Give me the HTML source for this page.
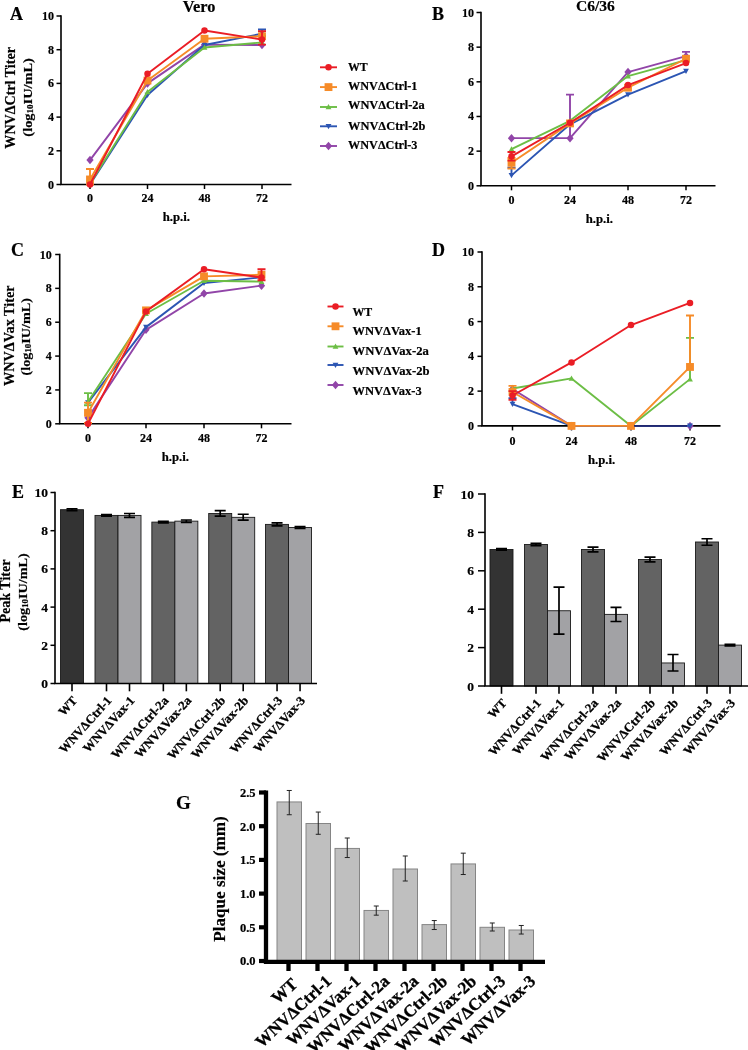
<!DOCTYPE html>
<html><head><meta charset="utf-8"><title>Figure</title><style>html,body{margin:0;padding:0;background:#fff}svg{display:block}text{stroke:#000;stroke-width:0.2px}</style></head><body>
<svg width="748" height="1050" viewBox="0 0 748 1050" font-family="'Liberation Serif', serif" font-weight="bold" fill="#000">
<rect width="748" height="1050" fill="#fff"/>
<path d="M61 15.25V184.5H291.5" fill="none" stroke="#000" stroke-width="1.6"/>
<path d="M56.5 184.50H61" stroke="#000" stroke-width="1.5"/>
<text x="54" y="188.5" font-size="12" text-anchor="end">0</text>
<path d="M56.5 150.80H61" stroke="#000" stroke-width="1.5"/>
<text x="54" y="154.8" font-size="12" text-anchor="end">2</text>
<path d="M56.5 117.10H61" stroke="#000" stroke-width="1.5"/>
<text x="54" y="121.1" font-size="12" text-anchor="end">4</text>
<path d="M56.5 83.40H61" stroke="#000" stroke-width="1.5"/>
<text x="54" y="87.4" font-size="12" text-anchor="end">6</text>
<path d="M56.5 49.70H61" stroke="#000" stroke-width="1.5"/>
<text x="54" y="53.7" font-size="12" text-anchor="end">8</text>
<path d="M56.5 16.00H61" stroke="#000" stroke-width="1.5"/>
<text x="54" y="20.0" font-size="12" text-anchor="end">10</text>
<path d="M90 184.5V189.0" stroke="#000" stroke-width="1.5"/>
<text x="90" y="202.0" font-size="12" text-anchor="middle">0</text>
<path d="M147.5 184.5V189.0" stroke="#000" stroke-width="1.5"/>
<text x="147.5" y="202.0" font-size="12" text-anchor="middle">24</text>
<path d="M204.5 184.5V189.0" stroke="#000" stroke-width="1.5"/>
<text x="204.5" y="202.0" font-size="12" text-anchor="middle">48</text>
<path d="M262 184.5V189.0" stroke="#000" stroke-width="1.5"/>
<text x="262" y="202.0" font-size="12" text-anchor="middle">72</text>
<text x="176.3" y="221.0" font-size="12" text-anchor="middle" textLength="27.3" lengthAdjust="spacingAndGlyphs">h.p.i.</text>
<polyline points="90.0,160.07 147.5,83.40 204.5,44.64 262.0,44.98" fill="none" stroke="#9145a8" stroke-width="1.9" stroke-linejoin="round"/>
<path d="M90.00 155.81L93.62 160.07L90.00 164.32L86.38 160.07Z" fill="#9145a8"/>
<path d="M147.50 79.14L151.12 83.40L147.50 87.66L143.88 83.40Z" fill="#9145a8"/>
<path d="M204.50 40.39L208.12 44.64L204.50 48.90L200.88 44.64Z" fill="#9145a8"/>
<path d="M262.00 40.73L265.62 44.98L262.00 49.24L258.38 44.98Z" fill="#9145a8"/>
<polyline points="90.0,184.50 147.5,95.03 204.5,44.98 262.0,33.69" fill="none" stroke="#2c55b3" stroke-width="1.9" stroke-linejoin="round"/>
<path d="M262 36.22V29.48M258 29.48H266M258 36.22H266" stroke="#2c55b3" stroke-width="1.9" fill="none"/>
<path d="M90.00 187.41L92.91 182.17L87.09 182.17Z" fill="#2c55b3"/>
<path d="M147.50 97.94L150.41 92.70L144.59 92.70Z" fill="#2c55b3"/>
<path d="M204.50 47.89L207.41 42.65L201.59 42.65Z" fill="#2c55b3"/>
<path d="M262.00 36.60L264.91 31.36L259.09 31.36Z" fill="#2c55b3"/>
<polyline points="90.0,183.66 147.5,91.99 204.5,47.51 262.0,42.45" fill="none" stroke="#6cbe45" stroke-width="1.9" stroke-linejoin="round"/>
<path d="M90.00 180.75L92.91 185.99L87.09 185.99Z" fill="#6cbe45"/>
<path d="M147.50 89.08L150.41 94.32L144.59 94.32Z" fill="#6cbe45"/>
<path d="M204.50 44.60L207.41 49.84L201.59 49.84Z" fill="#6cbe45"/>
<path d="M262.00 39.54L264.91 44.78L259.09 44.78Z" fill="#6cbe45"/>
<polyline points="90.0,179.44 147.5,80.54 204.5,38.75 262.0,36.22" fill="none" stroke="#f68b28" stroke-width="1.9" stroke-linejoin="round"/>
<path d="M90 184.50V169.00M86 169.00H94M86 184.50H94" stroke="#f68b28" stroke-width="1.9" fill="none"/>
<rect x="86.08" y="175.53" width="7.84" height="7.84" fill="#f68b28"/>
<rect x="143.58" y="76.62" width="7.84" height="7.84" fill="#f68b28"/>
<rect x="200.58" y="34.83" width="7.84" height="7.84" fill="#f68b28"/>
<rect x="258.08" y="32.30" width="7.84" height="7.84" fill="#f68b28"/>
<polyline points="90.0,184.50 147.5,73.80 204.5,30.49 262.0,39.59" fill="none" stroke="#ea1d25" stroke-width="1.9" stroke-linejoin="round"/>
<path d="M262 44.64V31.16M258 31.16H266M258 44.64H266" stroke="#ea1d25" stroke-width="1.9" fill="none"/>
<circle cx="90" cy="184.5" r="3.25" fill="#ea1d25"/>
<circle cx="147.5" cy="73.79549999999999" r="3.25" fill="#ea1d25"/>
<circle cx="204.5" cy="30.490999999999985" r="3.25" fill="#ea1d25"/>
<circle cx="262" cy="39.59" r="3.25" fill="#ea1d25"/>
<text x="10" y="19.5" font-size="18">A</text>
<text x="199" y="12" font-size="16.3" text-anchor="middle">Vero</text>
<text x="15.3" y="97.9" font-size="14" text-anchor="middle" transform="rotate(-90 15.3 97.9)" textLength="101.5" lengthAdjust="spacingAndGlyphs">WNVΔCtrl Titer</text>
<text x="32" y="97.4" font-size="13.5" text-anchor="middle" transform="rotate(-90 32 97.4)" textLength="78.5" lengthAdjust="spacingAndGlyphs">(log<tspan font-size='8.5' dy='1'>10</tspan><tspan dy='-1'>IU/mL)</tspan></text>
<path d="M320 67.3H337" stroke="#ea1d25" stroke-width="1.9"/>
<circle cx="328.5" cy="67.3" r="3.25" fill="#ea1d25"/>
<text x="348" y="70.7" font-size="12" textLength="19.8" lengthAdjust="spacingAndGlyphs">WT</text>
<path d="M320 87.1H337" stroke="#f68b28" stroke-width="1.9"/>
<rect x="324.58" y="83.18" width="7.84" height="7.84" fill="#f68b28"/>
<text x="348" y="89.6" font-size="12" textLength="69.5" lengthAdjust="spacingAndGlyphs">WNVΔCtrl-1</text>
<path d="M320 107H337" stroke="#6cbe45" stroke-width="1.9"/>
<path d="M328.50 104.09L331.41 109.33L325.59 109.33Z" fill="#6cbe45"/>
<text x="348" y="108.8" font-size="12" textLength="76.7" lengthAdjust="spacingAndGlyphs">WNVΔCtrl-2a</text>
<path d="M320 126.3H337" stroke="#2c55b3" stroke-width="1.9"/>
<path d="M328.50 129.21L331.41 123.97L325.59 123.97Z" fill="#2c55b3"/>
<text x="348" y="129.5" font-size="12" textLength="77.5" lengthAdjust="spacingAndGlyphs">WNVΔCtrl-2b</text>
<path d="M320 146H337" stroke="#9145a8" stroke-width="1.9"/>
<path d="M328.50 141.74L332.12 146.00L328.50 150.26L324.88 146.00Z" fill="#9145a8"/>
<text x="348" y="148.9" font-size="12" textLength="69.5" lengthAdjust="spacingAndGlyphs">WNVΔCtrl-3</text>
<path d="M481 11.75V185.8H715.5" fill="none" stroke="#000" stroke-width="1.6"/>
<path d="M476.5 185.80H481" stroke="#000" stroke-width="1.5"/>
<text x="474" y="189.8" font-size="12" text-anchor="end">0</text>
<path d="M476.5 151.14H481" stroke="#000" stroke-width="1.5"/>
<text x="474" y="155.14" font-size="12" text-anchor="end">2</text>
<path d="M476.5 116.48H481" stroke="#000" stroke-width="1.5"/>
<text x="474" y="120.48" font-size="12" text-anchor="end">4</text>
<path d="M476.5 81.82H481" stroke="#000" stroke-width="1.5"/>
<text x="474" y="85.82" font-size="12" text-anchor="end">6</text>
<path d="M476.5 47.16H481" stroke="#000" stroke-width="1.5"/>
<text x="474" y="51.16" font-size="12" text-anchor="end">8</text>
<path d="M476.5 12.50H481" stroke="#000" stroke-width="1.5"/>
<text x="474" y="16.5" font-size="12" text-anchor="end">10</text>
<path d="M511.5 185.8V190.3" stroke="#000" stroke-width="1.5"/>
<text x="511.5" y="204.10000000000002" font-size="12" text-anchor="middle">0</text>
<path d="M570 185.8V190.3" stroke="#000" stroke-width="1.5"/>
<text x="570" y="204.10000000000002" font-size="12" text-anchor="middle">24</text>
<path d="M628 185.8V190.3" stroke="#000" stroke-width="1.5"/>
<text x="628" y="204.10000000000002" font-size="12" text-anchor="middle">48</text>
<path d="M686 185.8V190.3" stroke="#000" stroke-width="1.5"/>
<text x="686" y="204.10000000000002" font-size="12" text-anchor="middle">72</text>
<text x="599.3" y="223.10000000000002" font-size="12" text-anchor="middle" textLength="27.3" lengthAdjust="spacingAndGlyphs">h.p.i.</text>
<polyline points="511.5,138.14 570.0,138.14 628.0,72.12 686.0,56.17" fill="none" stroke="#9145a8" stroke-width="1.9" stroke-linejoin="round"/>
<path d="M570 138.14V94.64M566 94.64H574" stroke="#9145a8" stroke-width="1.9" fill="none"/>
<path d="M686 56.17V51.84M682 51.84H690" stroke="#9145a8" stroke-width="1.9" fill="none"/>
<path d="M511.50 133.89L515.12 138.14L511.50 142.40L507.88 138.14Z" fill="#9145a8"/>
<path d="M570.00 133.89L573.62 138.14L570.00 142.40L566.38 138.14Z" fill="#9145a8"/>
<path d="M628.00 67.86L631.62 72.12L628.00 76.37L624.38 72.12Z" fill="#9145a8"/>
<path d="M686.00 51.92L689.62 56.17L686.00 60.43L682.38 56.17Z" fill="#9145a8"/>
<polyline points="511.5,175.40 570.0,124.28 628.0,94.64 686.0,71.08" fill="none" stroke="#2c55b3" stroke-width="1.9" stroke-linejoin="round"/>
<path d="M511.5 175.40V167.60M507.5 167.60H515.5" stroke="#2c55b3" stroke-width="1.9" fill="none"/>
<path d="M511.50 178.31L514.41 173.07L508.59 173.07Z" fill="#2c55b3"/>
<path d="M570.00 127.19L572.91 121.95L567.09 121.95Z" fill="#2c55b3"/>
<path d="M628.00 97.56L630.91 92.31L625.09 92.31Z" fill="#2c55b3"/>
<path d="M686.00 73.99L688.91 68.75L683.09 68.75Z" fill="#2c55b3"/>
<polyline points="511.5,149.06 570.0,120.81 628.0,76.10 686.0,60.16" fill="none" stroke="#6cbe45" stroke-width="1.9" stroke-linejoin="round"/>
<path d="M511.50 146.15L514.41 151.39L508.59 151.39Z" fill="#6cbe45"/>
<path d="M570.00 117.90L572.91 123.14L567.09 123.14Z" fill="#6cbe45"/>
<path d="M628.00 73.19L630.91 78.43L625.09 78.43Z" fill="#6cbe45"/>
<path d="M686.00 57.25L688.91 62.49L683.09 62.49Z" fill="#6cbe45"/>
<polyline points="511.5,162.75 570.0,123.41 628.0,87.71 686.0,58.77" fill="none" stroke="#f68b28" stroke-width="1.9" stroke-linejoin="round"/>
<path d="M511.5 168.47V158.07M507.5 158.07H515.5M507.5 168.47H515.5" stroke="#f68b28" stroke-width="1.9" fill="none"/>
<rect x="507.58" y="158.83" width="7.84" height="7.84" fill="#f68b28"/>
<rect x="566.08" y="119.49" width="7.84" height="7.84" fill="#f68b28"/>
<rect x="624.08" y="83.79" width="7.84" height="7.84" fill="#f68b28"/>
<rect x="682.08" y="54.85" width="7.84" height="7.84" fill="#f68b28"/>
<polyline points="511.5,156.34 570.0,122.72 628.0,85.11 686.0,63.10" fill="none" stroke="#ea1d25" stroke-width="1.9" stroke-linejoin="round"/>
<path d="M511.5 160.67V152.01M507.5 152.01H515.5M507.5 160.67H515.5" stroke="#ea1d25" stroke-width="1.9" fill="none"/>
<circle cx="511.5" cy="156.339" r="3.25" fill="#ea1d25"/>
<circle cx="570" cy="122.7188" r="3.25" fill="#ea1d25"/>
<circle cx="628" cy="85.1127" r="3.25" fill="#ea1d25"/>
<circle cx="686" cy="63.1036" r="3.25" fill="#ea1d25"/>
<text x="432" y="19.5" font-size="18">B</text>
<text x="595.4" y="10.7" font-size="15.6" text-anchor="middle">C6/36</text>
<path d="M59.7 253.75V423.8H291.5" fill="none" stroke="#000" stroke-width="1.6"/>
<path d="M55.2 423.80H59.7" stroke="#000" stroke-width="1.5"/>
<text x="51.7" y="427.8" font-size="12" text-anchor="end">0</text>
<path d="M55.2 389.94H59.7" stroke="#000" stroke-width="1.5"/>
<text x="51.7" y="393.94" font-size="12" text-anchor="end">2</text>
<path d="M55.2 356.08H59.7" stroke="#000" stroke-width="1.5"/>
<text x="51.7" y="360.08" font-size="12" text-anchor="end">4</text>
<path d="M55.2 322.22H59.7" stroke="#000" stroke-width="1.5"/>
<text x="51.7" y="326.22" font-size="12" text-anchor="end">6</text>
<path d="M55.2 288.36H59.7" stroke="#000" stroke-width="1.5"/>
<text x="51.7" y="292.36" font-size="12" text-anchor="end">8</text>
<path d="M55.2 254.50H59.7" stroke="#000" stroke-width="1.5"/>
<text x="51.7" y="258.5" font-size="12" text-anchor="end">10</text>
<path d="M88 423.8V428.3" stroke="#000" stroke-width="1.5"/>
<text x="88" y="441.7" font-size="12" text-anchor="middle">0</text>
<path d="M146 423.8V428.3" stroke="#000" stroke-width="1.5"/>
<text x="146" y="441.7" font-size="12" text-anchor="middle">24</text>
<path d="M204 423.8V428.3" stroke="#000" stroke-width="1.5"/>
<text x="204" y="441.7" font-size="12" text-anchor="middle">48</text>
<path d="M261.5 423.8V428.3" stroke="#000" stroke-width="1.5"/>
<text x="261.5" y="441.7" font-size="12" text-anchor="middle">72</text>
<text x="175.3" y="460.7" font-size="12" text-anchor="middle" textLength="27.3" lengthAdjust="spacingAndGlyphs">h.p.i.</text>
<polyline points="88.0,417.87 146.0,329.84 204.0,293.44 261.5,285.65" fill="none" stroke="#9145a8" stroke-width="1.9" stroke-linejoin="round"/>
<path d="M88.00 413.62L91.62 417.87L88.00 422.13L84.38 417.87Z" fill="#9145a8"/>
<path d="M146.00 325.58L149.62 329.84L146.00 334.09L142.38 329.84Z" fill="#9145a8"/>
<path d="M204.00 289.18L207.62 293.44L204.00 297.70L200.38 293.44Z" fill="#9145a8"/>
<path d="M261.50 281.40L265.12 285.65L261.50 289.91L257.88 285.65Z" fill="#9145a8"/>
<polyline points="88.0,402.64 146.0,327.13 204.0,283.11 261.5,277.36" fill="none" stroke="#2c55b3" stroke-width="1.9" stroke-linejoin="round"/>
<path d="M88.00 405.55L90.91 400.31L85.09 400.31Z" fill="#2c55b3"/>
<path d="M146.00 330.04L148.91 324.80L143.09 324.80Z" fill="#2c55b3"/>
<path d="M204.00 286.02L206.91 280.78L201.09 280.78Z" fill="#2c55b3"/>
<path d="M261.50 280.27L264.41 275.03L258.59 275.03Z" fill="#2c55b3"/>
<polyline points="88.0,401.79 146.0,313.75 204.0,280.74 261.5,281.59" fill="none" stroke="#6cbe45" stroke-width="1.9" stroke-linejoin="round"/>
<path d="M88 405.18V393.16M84 393.16H92M84 405.18H92" stroke="#6cbe45" stroke-width="1.9" fill="none"/>
<path d="M88.00 398.88L90.91 404.12L85.09 404.12Z" fill="#6cbe45"/>
<path d="M146.00 310.84L148.91 316.08L143.09 316.08Z" fill="#6cbe45"/>
<path d="M204.00 277.83L206.91 283.07L201.09 283.07Z" fill="#6cbe45"/>
<path d="M261.50 278.68L264.41 283.92L258.59 283.92Z" fill="#6cbe45"/>
<polyline points="88.0,412.80 146.0,310.37 204.0,276.34 261.5,274.82" fill="none" stroke="#f68b28" stroke-width="1.9" stroke-linejoin="round"/>
<path d="M88 422.95V402.64M84 402.64H92M84 422.95H92" stroke="#f68b28" stroke-width="1.9" fill="none"/>
<rect x="84.08" y="408.88" width="7.84" height="7.84" fill="#f68b28"/>
<rect x="142.08" y="306.45" width="7.84" height="7.84" fill="#f68b28"/>
<rect x="200.08" y="272.42" width="7.84" height="7.84" fill="#f68b28"/>
<rect x="257.58" y="270.90" width="7.84" height="7.84" fill="#f68b28"/>
<polyline points="88.0,423.80 146.0,311.38 204.0,269.23 261.5,277.52" fill="none" stroke="#ea1d25" stroke-width="1.9" stroke-linejoin="round"/>
<path d="M261.5 280.23V269.23M257.5 269.23H265.5M257.5 280.23H265.5" stroke="#ea1d25" stroke-width="1.9" fill="none"/>
<circle cx="88" cy="423.8" r="3.25" fill="#ea1d25"/>
<circle cx="146" cy="311.38480000000004" r="3.25" fill="#ea1d25"/>
<circle cx="204" cy="269.2291" r="3.25" fill="#ea1d25"/>
<circle cx="261.5" cy="277.5248" r="3.25" fill="#ea1d25"/>
<text x="11" y="256.3" font-size="18">C</text>
<text x="13.7" y="335.7" font-size="14" text-anchor="middle" transform="rotate(-90 13.7 335.7)" textLength="100.5" lengthAdjust="spacingAndGlyphs">WNVΔVax Titer</text>
<text x="30" y="336.7" font-size="13.5" text-anchor="middle" transform="rotate(-90 30 336.7)" textLength="77.5" lengthAdjust="spacingAndGlyphs">(log<tspan font-size='8.5' dy='1'>10</tspan><tspan dy='-1'>IU/mL)</tspan></text>
<path d="M327.5 306.5H343.5" stroke="#ea1d25" stroke-width="1.9"/>
<circle cx="335.5" cy="306.5" r="3.25" fill="#ea1d25"/>
<text x="352.5" y="315.5" font-size="12" textLength="19.8" lengthAdjust="spacingAndGlyphs">WT</text>
<path d="M327.5 326.3H343.5" stroke="#f68b28" stroke-width="1.9"/>
<rect x="331.58" y="322.38" width="7.84" height="7.84" fill="#f68b28"/>
<text x="352.5" y="335" font-size="12" textLength="69.3" lengthAdjust="spacingAndGlyphs">WNVΔVax-1</text>
<path d="M327.5 346.5H343.5" stroke="#6cbe45" stroke-width="1.9"/>
<path d="M335.50 343.59L338.41 348.83L332.59 348.83Z" fill="#6cbe45"/>
<text x="352.5" y="354.6" font-size="12" textLength="76.3" lengthAdjust="spacingAndGlyphs">WNVΔVax-2a</text>
<path d="M327.5 365H343.5" stroke="#2c55b3" stroke-width="1.9"/>
<path d="M335.50 367.91L338.41 362.67L332.59 362.67Z" fill="#2c55b3"/>
<text x="352.5" y="375" font-size="12" textLength="77" lengthAdjust="spacingAndGlyphs">WNVΔVax-2b</text>
<path d="M327.5 385H343.5" stroke="#9145a8" stroke-width="1.9"/>
<path d="M335.50 380.74L339.12 385.00L335.50 389.26L331.88 385.00Z" fill="#9145a8"/>
<text x="352.5" y="394.5" font-size="12" textLength="69.3" lengthAdjust="spacingAndGlyphs">WNVΔVax-3</text>
<path d="M482 251.25V425.9H720.5" fill="none" stroke="#000" stroke-width="1.6"/>
<path d="M477.5 425.90H482" stroke="#000" stroke-width="1.5"/>
<text x="474" y="429.9" font-size="12" text-anchor="end">0</text>
<path d="M477.5 391.12H482" stroke="#000" stroke-width="1.5"/>
<text x="474" y="395.12" font-size="12" text-anchor="end">2</text>
<path d="M477.5 356.34H482" stroke="#000" stroke-width="1.5"/>
<text x="474" y="360.34" font-size="12" text-anchor="end">4</text>
<path d="M477.5 321.56H482" stroke="#000" stroke-width="1.5"/>
<text x="474" y="325.56" font-size="12" text-anchor="end">6</text>
<path d="M477.5 286.78H482" stroke="#000" stroke-width="1.5"/>
<text x="474" y="290.78" font-size="12" text-anchor="end">8</text>
<path d="M477.5 252.00H482" stroke="#000" stroke-width="1.5"/>
<text x="474" y="256.0" font-size="12" text-anchor="end">10</text>
<path d="M512.5 425.9V430.4" stroke="#000" stroke-width="1.5"/>
<text x="512.5" y="444.59999999999997" font-size="12" text-anchor="middle">0</text>
<path d="M571.5 425.9V430.4" stroke="#000" stroke-width="1.5"/>
<text x="571.5" y="444.59999999999997" font-size="12" text-anchor="middle">24</text>
<path d="M631 425.9V430.4" stroke="#000" stroke-width="1.5"/>
<text x="631" y="444.59999999999997" font-size="12" text-anchor="middle">48</text>
<path d="M690 425.9V430.4" stroke="#000" stroke-width="1.5"/>
<text x="690" y="444.59999999999997" font-size="12" text-anchor="middle">72</text>
<text x="601.55" y="463.59999999999997" font-size="12" text-anchor="middle" textLength="27.3" lengthAdjust="spacingAndGlyphs">h.p.i.</text>
<polyline points="512.5,389.03 571.5,425.90 631.0,425.90 690.0,425.90" fill="none" stroke="#9145a8" stroke-width="1.9" stroke-linejoin="round"/>
<path d="M512.50 384.78L516.12 389.03L512.50 393.29L508.88 389.03Z" fill="#9145a8"/>
<path d="M571.50 421.64L575.12 425.90L571.50 430.16L567.88 425.90Z" fill="#9145a8"/>
<path d="M631.00 421.64L634.62 425.90L631.00 430.16L627.38 425.90Z" fill="#9145a8"/>
<path d="M690.00 421.64L693.62 425.90L690.00 430.16L686.38 425.90Z" fill="#9145a8"/>
<polyline points="512.5,404.16 571.5,425.90 631.0,425.90 690.0,425.90" fill="none" stroke="#2c55b3" stroke-width="1.9" stroke-linejoin="round"/>
<path d="M512.5 404.16V398.08M508.5 398.08H516.5" stroke="#2c55b3" stroke-width="1.9" fill="none"/>
<path d="M512.50 407.07L515.41 401.83L509.59 401.83Z" fill="#2c55b3"/>
<path d="M571.50 428.81L574.41 423.57L568.59 423.57Z" fill="#2c55b3"/>
<path d="M631.00 428.81L633.91 423.57L628.09 423.57Z" fill="#2c55b3"/>
<path d="M690.00 428.81L692.91 423.57L687.09 423.57Z" fill="#2c55b3"/>
<polyline points="512.5,388.51 571.5,378.43 631.0,425.90 690.0,379.12" fill="none" stroke="#6cbe45" stroke-width="1.9" stroke-linejoin="round"/>
<path d="M690 379.12V337.91M686 337.91H694" stroke="#6cbe45" stroke-width="1.9" fill="none"/>
<path d="M512.50 385.60L515.41 390.84L509.59 390.84Z" fill="#6cbe45"/>
<path d="M571.50 375.51L574.41 380.75L568.59 380.75Z" fill="#6cbe45"/>
<path d="M631.00 422.99L633.91 428.23L628.09 428.23Z" fill="#6cbe45"/>
<path d="M690.00 376.21L692.91 381.45L687.09 381.45Z" fill="#6cbe45"/>
<polyline points="512.5,391.99 571.5,425.90 631.0,425.90 690.0,366.95" fill="none" stroke="#f68b28" stroke-width="1.9" stroke-linejoin="round"/>
<path d="M690 366.95V315.47M686 315.47H694" stroke="#f68b28" stroke-width="1.9" fill="none"/>
<path d="M512.5 391.99V385.90M508.5 385.90H516.5" stroke="#f68b28" stroke-width="1.9" fill="none"/>
<rect x="508.58" y="388.07" width="7.84" height="7.84" fill="#f68b28"/>
<rect x="567.58" y="421.98" width="7.84" height="7.84" fill="#f68b28"/>
<rect x="627.08" y="421.98" width="7.84" height="7.84" fill="#f68b28"/>
<rect x="686.08" y="363.03" width="7.84" height="7.84" fill="#f68b28"/>
<polyline points="512.5,395.47 571.5,362.43 631.0,325.04 690.0,302.95" fill="none" stroke="#ea1d25" stroke-width="1.9" stroke-linejoin="round"/>
<path d="M512.5 399.81V391.12M508.5 391.12H516.5M508.5 399.81H516.5" stroke="#ea1d25" stroke-width="1.9" fill="none"/>
<circle cx="512.5" cy="395.4675" r="3.25" fill="#ea1d25"/>
<circle cx="571.5" cy="362.4265" r="3.25" fill="#ea1d25"/>
<circle cx="631" cy="325.038" r="3.25" fill="#ea1d25"/>
<circle cx="690" cy="302.9527" r="3.25" fill="#ea1d25"/>
<path d="M634 425.9H687" stroke="#20286e" stroke-width="1.7"/>
<text x="432" y="256.3" font-size="18">D</text>
<rect x="60.50" y="509.69" width="23" height="173.81" fill="#333333" stroke="#1a1a1a" stroke-width="0.9"/>
<rect x="95.00" y="515.42" width="23" height="168.08" fill="#636363" stroke="#1a1a1a" stroke-width="0.9"/>
<rect x="118.00" y="515.42" width="23" height="168.08" fill="#a2a2a5" stroke="#1a1a1a" stroke-width="0.9"/>
<rect x="151.85" y="522.11" width="23" height="161.39" fill="#636363" stroke="#1a1a1a" stroke-width="0.9"/>
<rect x="174.85" y="521.15" width="23" height="162.35" fill="#a2a2a5" stroke="#1a1a1a" stroke-width="0.9"/>
<rect x="208.70" y="513.51" width="23" height="169.99" fill="#636363" stroke="#1a1a1a" stroke-width="0.9"/>
<rect x="231.70" y="517.33" width="23" height="166.17" fill="#a2a2a5" stroke="#1a1a1a" stroke-width="0.9"/>
<rect x="265.55" y="524.40" width="23" height="159.10" fill="#636363" stroke="#1a1a1a" stroke-width="0.9"/>
<rect x="288.55" y="527.45" width="23" height="156.05" fill="#a2a2a5" stroke="#1a1a1a" stroke-width="0.9"/>
<path d="M72.00 510.64V508.74M66.50 508.74H77.50M66.50 510.64H77.50" stroke="#000" stroke-width="1.7" fill="none"/>
<path d="M106.50 516.18V514.66M101.00 514.66H112.00M101.00 516.18H112.00" stroke="#000" stroke-width="1.7" fill="none"/>
<path d="M129.50 517.33V513.51M124.00 513.51H135.00M124.00 517.33H135.00" stroke="#000" stroke-width="1.7" fill="none"/>
<path d="M163.35 522.87V521.34M157.85 521.34H168.85M157.85 522.87H168.85" stroke="#000" stroke-width="1.7" fill="none"/>
<path d="M186.35 522.30V520.00M180.85 520.00H191.85M180.85 522.30H191.85" stroke="#000" stroke-width="1.7" fill="none"/>
<path d="M220.20 516.18V510.64M214.70 510.64H225.70M214.70 516.18H225.70" stroke="#000" stroke-width="1.7" fill="none"/>
<path d="M243.20 520.19V514.27M237.70 514.27H248.70M237.70 520.19H248.70" stroke="#000" stroke-width="1.7" fill="none"/>
<path d="M277.05 525.92V522.87M271.55 522.87H282.55M271.55 525.92H282.55" stroke="#000" stroke-width="1.7" fill="none"/>
<path d="M300.05 528.41V526.50M294.55 526.50H305.55M294.55 528.41H305.55" stroke="#000" stroke-width="1.7" fill="none"/>
<path d="M55 491.75V683.5H317" fill="none" stroke="#000" stroke-width="1.6"/>
<path d="M50.5 683.50H55" stroke="#000" stroke-width="1.5"/>
<text x="48" y="688.0" font-size="13.5" text-anchor="end">0</text>
<path d="M50.5 645.30H55" stroke="#000" stroke-width="1.5"/>
<text x="48" y="649.8" font-size="13.5" text-anchor="end">2</text>
<path d="M50.5 607.10H55" stroke="#000" stroke-width="1.5"/>
<text x="48" y="611.6" font-size="13.5" text-anchor="end">4</text>
<path d="M50.5 568.90H55" stroke="#000" stroke-width="1.5"/>
<text x="48" y="573.4" font-size="13.5" text-anchor="end">6</text>
<path d="M50.5 530.70H55" stroke="#000" stroke-width="1.5"/>
<text x="48" y="535.2" font-size="13.5" text-anchor="end">8</text>
<path d="M50.5 492.50H55" stroke="#000" stroke-width="1.5"/>
<text x="48" y="497.0" font-size="13.5" text-anchor="end">10</text>
<path d="M72.00 683.5V691.3" stroke="#000" stroke-width="1.6"/>
<text x="77.8" y="701.0" font-size="12.5" text-anchor="end" transform="rotate(-48 77.8 701.0)" style="stroke-width:0.3px">WT</text>
<path d="M106.50 683.5V691.3" stroke="#000" stroke-width="1.6"/>
<text x="112.3" y="701.0" font-size="12.5" text-anchor="end" transform="rotate(-48 112.3 701.0)" textLength="71.3" lengthAdjust="spacingAndGlyphs" style="stroke-width:0.3px">WNVΔCtrl-1</text>
<path d="M129.50 683.5V691.3" stroke="#000" stroke-width="1.6"/>
<text x="135.3" y="701.0" font-size="12.5" text-anchor="end" transform="rotate(-48 135.3 701.0)" textLength="70.3" lengthAdjust="spacingAndGlyphs" style="stroke-width:0.3px">WNVΔVax-1</text>
<path d="M163.35 683.5V691.3" stroke="#000" stroke-width="1.6"/>
<text x="169.15" y="701.0" font-size="12.5" text-anchor="end" transform="rotate(-48 169.15 701.0)" textLength="78.8" lengthAdjust="spacingAndGlyphs" style="stroke-width:0.3px">WNVΔCtrl-2a</text>
<path d="M186.35 683.5V691.3" stroke="#000" stroke-width="1.6"/>
<text x="192.15" y="701.0" font-size="12.5" text-anchor="end" transform="rotate(-48 192.15 701.0)" textLength="77.8" lengthAdjust="spacingAndGlyphs" style="stroke-width:0.3px">WNVΔVax-2a</text>
<path d="M220.20 683.5V691.3" stroke="#000" stroke-width="1.6"/>
<text x="226.0" y="701.0" font-size="12.5" text-anchor="end" transform="rotate(-48 226.0 701.0)" textLength="79.6" lengthAdjust="spacingAndGlyphs" style="stroke-width:0.3px">WNVΔCtrl-2b</text>
<path d="M243.20 683.5V691.3" stroke="#000" stroke-width="1.6"/>
<text x="249.0" y="701.0" font-size="12.5" text-anchor="end" transform="rotate(-48 249.0 701.0)" textLength="78.6" lengthAdjust="spacingAndGlyphs" style="stroke-width:0.3px">WNVΔVax-2b</text>
<path d="M277.05 683.5V691.3" stroke="#000" stroke-width="1.6"/>
<text x="282.85" y="701.0" font-size="12.5" text-anchor="end" transform="rotate(-48 282.85 701.0)" textLength="71.3" lengthAdjust="spacingAndGlyphs" style="stroke-width:0.3px">WNVΔCtrl-3</text>
<path d="M300.05 683.5V691.3" stroke="#000" stroke-width="1.6"/>
<text x="305.85" y="701.0" font-size="12.5" text-anchor="end" transform="rotate(-48 305.85 701.0)" textLength="70.3" lengthAdjust="spacingAndGlyphs" style="stroke-width:0.3px">WNVΔVax-3</text>
<text x="12" y="497.5" font-size="18">E</text>
<text x="10" y="591" font-size="14" text-anchor="middle" transform="rotate(-90 10 591)">Peak Titer</text>
<text x="27" y="592" font-size="13.5" text-anchor="middle" transform="rotate(-90 27 592)" textLength="77.3" lengthAdjust="spacingAndGlyphs">(log<tspan font-size='8.5' dy='1'>10</tspan><tspan dy='-1'>IU/mL)</tspan></text>
<rect x="490.00" y="549.49" width="23" height="136.51" fill="#333333" stroke="#1a1a1a" stroke-width="0.9"/>
<rect x="524.50" y="544.50" width="23" height="141.50" fill="#636363" stroke="#1a1a1a" stroke-width="0.9"/>
<rect x="547.50" y="610.74" width="23" height="75.26" fill="#a2a2a5" stroke="#1a1a1a" stroke-width="0.9"/>
<rect x="581.50" y="549.49" width="23" height="136.51" fill="#636363" stroke="#1a1a1a" stroke-width="0.9"/>
<rect x="604.50" y="614.38" width="23" height="71.62" fill="#a2a2a5" stroke="#1a1a1a" stroke-width="0.9"/>
<rect x="638.50" y="559.47" width="23" height="126.53" fill="#636363" stroke="#1a1a1a" stroke-width="0.9"/>
<rect x="661.50" y="662.96" width="23" height="23.04" fill="#a2a2a5" stroke="#1a1a1a" stroke-width="0.9"/>
<rect x="695.50" y="542.00" width="23" height="144.00" fill="#636363" stroke="#1a1a1a" stroke-width="0.9"/>
<rect x="718.50" y="645.10" width="23" height="40.90" fill="#a2a2a5" stroke="#1a1a1a" stroke-width="0.9"/>
<path d="M501.50 550.26V548.72M496.00 548.72H507.00M496.00 550.26H507.00" stroke="#000" stroke-width="1.7" fill="none"/>
<path d="M536.00 545.65V543.34M530.50 543.34H541.50M530.50 545.65H541.50" stroke="#000" stroke-width="1.7" fill="none"/>
<path d="M559.00 634.16V587.12M553.50 587.12H564.50M553.50 634.16H564.50" stroke="#000" stroke-width="1.7" fill="none"/>
<path d="M593.00 551.79V547.18M587.50 547.18H598.50M587.50 551.79H598.50" stroke="#000" stroke-width="1.7" fill="none"/>
<path d="M616.00 621.49V607.47M610.50 607.47H621.50M610.50 621.49H621.50" stroke="#000" stroke-width="1.7" fill="none"/>
<path d="M650.00 561.78V557.17M644.50 557.17H655.50M644.50 561.78H655.50" stroke="#000" stroke-width="1.7" fill="none"/>
<path d="M673.00 671.02V654.51M667.50 654.51H678.50M667.50 671.02H678.50" stroke="#000" stroke-width="1.7" fill="none"/>
<path d="M707.00 545.26V538.74M701.50 538.74H712.50M701.50 545.26H712.50" stroke="#000" stroke-width="1.7" fill="none"/>
<path d="M730.00 645.87V644.34M724.50 644.34H735.50M724.50 645.87H735.50" stroke="#000" stroke-width="1.7" fill="none"/>
<path d="M485 493.25V686H748" fill="none" stroke="#000" stroke-width="1.6"/>
<path d="M478 686.00H485" stroke="#000" stroke-width="1.5"/>
<text x="474" y="690.5" font-size="13.5" text-anchor="end">0</text>
<path d="M478 647.60H485" stroke="#000" stroke-width="1.5"/>
<text x="474" y="652.1" font-size="13.5" text-anchor="end">2</text>
<path d="M478 609.20H485" stroke="#000" stroke-width="1.5"/>
<text x="474" y="613.7" font-size="13.5" text-anchor="end">4</text>
<path d="M478 570.80H485" stroke="#000" stroke-width="1.5"/>
<text x="474" y="575.3" font-size="13.5" text-anchor="end">6</text>
<path d="M478 532.40H485" stroke="#000" stroke-width="1.5"/>
<text x="474" y="536.9" font-size="13.5" text-anchor="end">8</text>
<path d="M478 494.00H485" stroke="#000" stroke-width="1.5"/>
<text x="474" y="498.5" font-size="13.5" text-anchor="end">10</text>
<path d="M501.50 686V693.8" stroke="#000" stroke-width="1.6"/>
<text x="507.3" y="703.5" font-size="12.5" text-anchor="end" transform="rotate(-48 507.3 703.5)" style="stroke-width:0.3px">WT</text>
<path d="M536.00 686V693.8" stroke="#000" stroke-width="1.6"/>
<text x="541.8" y="703.5" font-size="12.5" text-anchor="end" transform="rotate(-48 541.8 703.5)" textLength="71.3" lengthAdjust="spacingAndGlyphs" style="stroke-width:0.3px">WNVΔCtrl-1</text>
<path d="M559.00 686V693.8" stroke="#000" stroke-width="1.6"/>
<text x="564.8" y="703.5" font-size="12.5" text-anchor="end" transform="rotate(-48 564.8 703.5)" textLength="70.3" lengthAdjust="spacingAndGlyphs" style="stroke-width:0.3px">WNVΔVax-1</text>
<path d="M593.00 686V693.8" stroke="#000" stroke-width="1.6"/>
<text x="598.8" y="703.5" font-size="12.5" text-anchor="end" transform="rotate(-48 598.8 703.5)" textLength="78.8" lengthAdjust="spacingAndGlyphs" style="stroke-width:0.3px">WNVΔCtrl-2a</text>
<path d="M616.00 686V693.8" stroke="#000" stroke-width="1.6"/>
<text x="621.8" y="703.5" font-size="12.5" text-anchor="end" transform="rotate(-48 621.8 703.5)" textLength="77.8" lengthAdjust="spacingAndGlyphs" style="stroke-width:0.3px">WNVΔVax-2a</text>
<path d="M650.00 686V693.8" stroke="#000" stroke-width="1.6"/>
<text x="655.8" y="703.5" font-size="12.5" text-anchor="end" transform="rotate(-48 655.8 703.5)" textLength="79.6" lengthAdjust="spacingAndGlyphs" style="stroke-width:0.3px">WNVΔCtrl-2b</text>
<path d="M673.00 686V693.8" stroke="#000" stroke-width="1.6"/>
<text x="678.8" y="703.5" font-size="12.5" text-anchor="end" transform="rotate(-48 678.8 703.5)" textLength="78.6" lengthAdjust="spacingAndGlyphs" style="stroke-width:0.3px">WNVΔVax-2b</text>
<path d="M707.00 686V693.8" stroke="#000" stroke-width="1.6"/>
<text x="712.8" y="703.5" font-size="12.5" text-anchor="end" transform="rotate(-48 712.8 703.5)" textLength="71.3" lengthAdjust="spacingAndGlyphs" style="stroke-width:0.3px">WNVΔCtrl-3</text>
<path d="M730.00 686V693.8" stroke="#000" stroke-width="1.6"/>
<text x="735.8" y="703.5" font-size="12.5" text-anchor="end" transform="rotate(-48 735.8 703.5)" textLength="70.3" lengthAdjust="spacingAndGlyphs" style="stroke-width:0.3px">WNVΔVax-3</text>
<text x="433" y="497.5" font-size="18">F</text>
<rect x="277" y="801.94" width="24.5" height="159.06" fill="#bfbfbf" stroke="#858585" stroke-width="1"/>
<path d="M289.25 814.74V790.48M286.75 790.48H291.75M286.75 814.74H291.75" stroke="#222" stroke-width="1" fill="none"/>
<rect x="306" y="823.50" width="24.5" height="137.50" fill="#bfbfbf" stroke="#858585" stroke-width="1"/>
<path d="M318.25 834.29V812.05M315.75 812.05H320.75M315.75 834.29H320.75" stroke="#222" stroke-width="1" fill="none"/>
<rect x="335" y="848.44" width="24.5" height="112.56" fill="#bfbfbf" stroke="#858585" stroke-width="1"/>
<path d="M347.25 857.54V838.00M344.75 838.00H349.75M344.75 857.54H349.75" stroke="#222" stroke-width="1" fill="none"/>
<rect x="364" y="910.45" width="24.5" height="50.55" fill="#bfbfbf" stroke="#858585" stroke-width="1"/>
<path d="M376.25 915.17V906.00M373.75 906.00H378.75M373.75 915.17H378.75" stroke="#222" stroke-width="1" fill="none"/>
<rect x="393" y="869.00" width="24.5" height="92.00" fill="#bfbfbf" stroke="#858585" stroke-width="1"/>
<path d="M405.25 881.00V855.99M402.75 855.99H407.75M402.75 881.00H407.75" stroke="#222" stroke-width="1" fill="none"/>
<rect x="422" y="924.60" width="24.5" height="36.40" fill="#bfbfbf" stroke="#858585" stroke-width="1"/>
<path d="M434.25 929.52V920.56M431.75 920.56H436.75M431.75 929.52H436.75" stroke="#222" stroke-width="1" fill="none"/>
<rect x="451" y="863.94" width="24.5" height="97.06" fill="#bfbfbf" stroke="#858585" stroke-width="1"/>
<path d="M463.25 874.53V853.16M460.75 853.16H465.75M460.75 874.53H465.75" stroke="#222" stroke-width="1" fill="none"/>
<rect x="480" y="927.30" width="24.5" height="33.70" fill="#bfbfbf" stroke="#858585" stroke-width="1"/>
<path d="M492.25 931.01V922.99M489.75 922.99H494.75M489.75 931.01H494.75" stroke="#222" stroke-width="1" fill="none"/>
<rect x="509" y="930.00" width="24.5" height="31.00" fill="#bfbfbf" stroke="#858585" stroke-width="1"/>
<path d="M521.25 934.04V925.48M518.75 925.48H523.75M518.75 934.04H523.75" stroke="#222" stroke-width="1" fill="none"/>
<path d="M266 790.40V961.8H545" fill="none" stroke="#000" stroke-width="4.3"/>
<path d="M259 961.00H266" stroke="#000" stroke-width="4.2"/>
<text x="255.5" y="965.3" font-size="12.5" text-anchor="end">0.0</text>
<path d="M259 927.30H266" stroke="#000" stroke-width="4.2"/>
<text x="255.5" y="931.6" font-size="12.5" text-anchor="end">0.5</text>
<path d="M259 893.60H266" stroke="#000" stroke-width="4.2"/>
<text x="255.5" y="897.9" font-size="12.5" text-anchor="end">1.0</text>
<path d="M259 859.90H266" stroke="#000" stroke-width="4.2"/>
<text x="255.5" y="864.2" font-size="12.5" text-anchor="end">1.5</text>
<path d="M259 826.20H266" stroke="#000" stroke-width="4.2"/>
<text x="255.5" y="830.5" font-size="12.5" text-anchor="end">2.0</text>
<path d="M259 792.50H266" stroke="#000" stroke-width="4.2"/>
<text x="255.5" y="796.8" font-size="12.5" text-anchor="end">2.5</text>
<path d="M288.5 961V971" stroke="#000" stroke-width="4.3"/>
<text x="298.5" y="985.5" font-size="17" text-anchor="end" transform="rotate(-43 298.5 985.5)" style="stroke-width:0.35px">WT</text>
<path d="M317.5 961V971" stroke="#000" stroke-width="4.3"/>
<text x="332.5" y="982.5" font-size="17" text-anchor="end" transform="rotate(-43 332.5 982.5)" style="stroke-width:0.35px">WNVΔCtrl-1</text>
<path d="M346.5 961V971" stroke="#000" stroke-width="4.3"/>
<text x="361.5" y="982.5" font-size="17" text-anchor="end" transform="rotate(-43 361.5 982.5)" style="stroke-width:0.35px">WNVΔVax-1</text>
<path d="M375.5 961V971" stroke="#000" stroke-width="4.3"/>
<text x="390.5" y="982.5" font-size="17" text-anchor="end" transform="rotate(-43 390.5 982.5)" style="stroke-width:0.35px">WNVΔCtrl-2a</text>
<path d="M404.5 961V971" stroke="#000" stroke-width="4.3"/>
<text x="419.5" y="982.5" font-size="17" text-anchor="end" transform="rotate(-43 419.5 982.5)" style="stroke-width:0.35px">WNVΔVax-2a</text>
<path d="M433.5 961V971" stroke="#000" stroke-width="4.3"/>
<text x="448.5" y="982.5" font-size="17" text-anchor="end" transform="rotate(-43 448.5 982.5)" style="stroke-width:0.35px">WNVΔCtrl-2b</text>
<path d="M462.5 961V971" stroke="#000" stroke-width="4.3"/>
<text x="477.5" y="982.5" font-size="17" text-anchor="end" transform="rotate(-43 477.5 982.5)" style="stroke-width:0.35px">WNVΔVax-2b</text>
<path d="M491.5 961V971" stroke="#000" stroke-width="4.3"/>
<text x="506.5" y="982.5" font-size="17" text-anchor="end" transform="rotate(-43 506.5 982.5)" style="stroke-width:0.35px">WNVΔCtrl-3</text>
<path d="M520.5 961V971" stroke="#000" stroke-width="4.3"/>
<text x="536.5" y="982.5" font-size="17" text-anchor="end" transform="rotate(-43 536.5 982.5)" style="stroke-width:0.35px">WNVΔVax-3</text>
<text x="176" y="809" font-size="19">G</text>
<text x="225.4" y="879" font-size="17.5" text-anchor="middle" transform="rotate(-90 225.4 879)" textLength="125.5" lengthAdjust="spacingAndGlyphs">Plaque size (mm)</text>
</svg>
</body></html>
